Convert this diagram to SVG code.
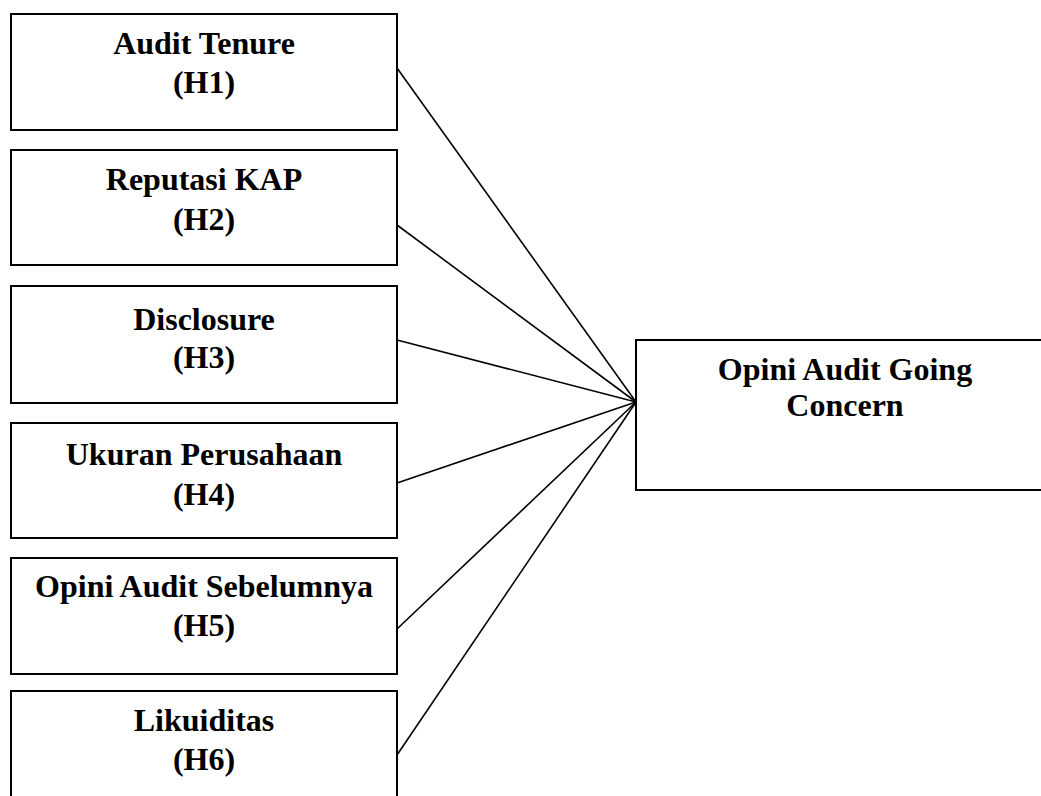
<svg xmlns="http://www.w3.org/2000/svg" width="1041" height="796" viewBox="0 0 1041 796">
<style>
.box{fill:#fff;stroke:#000;stroke-width:2}
.t{font-family:"Liberation Serif","Times New Roman",serif;font-weight:bold;font-size:32px;text-anchor:middle;fill:#000}
.c{stroke:#000;stroke-width:1.6;fill:none}
</style>
<rect width="1041" height="796" fill="#fff"/>
<g id="connectors">
<line class="c" x1="397" y1="68" x2="636" y2="402"/>
<line class="c" x1="397" y1="225" x2="636" y2="402"/>
<line class="c" x1="397" y1="340" x2="636" y2="402"/>
<line class="c" x1="397" y1="483" x2="636" y2="402"/>
<line class="c" x1="397" y1="629" x2="636" y2="402"/>
<line class="c" x1="397" y1="755" x2="636" y2="402"/>
</g>
<g id="n1"><rect class="box" x="11" y="14" width="386" height="116"/><text class="t" x="204" y="54">Audit Tenure</text><text class="t" x="204" y="93">(H1)</text></g>
<g id="n2"><rect class="box" x="11" y="150" width="386" height="115"/><text class="t" x="204" y="190">Reputasi KAP</text><text class="t" x="204" y="230">(H2)</text></g>
<g id="n3"><rect class="box" x="11" y="286" width="386" height="117"/><text class="t" x="204" y="330">Disclosure</text><text class="t" x="204" y="368">(H3)</text></g>
<g id="n4"><rect class="box" x="11" y="423" width="386" height="115"/><text class="t" x="204" y="465">Ukuran Perusahaan</text><text class="t" x="204" y="505">(H4)</text></g>
<g id="n5"><rect class="box" x="11" y="558" width="386" height="116"/><text class="t" x="204" y="597">Opini Audit Sebelumnya</text><text class="t" x="204" y="636">(H5)</text></g>
<g id="n6"><rect class="box" x="11" y="691" width="386" height="130"/><text class="t" x="204" y="731">Likuiditas</text><text class="t" x="204" y="770">(H6)</text></g>
<g id="target"><rect class="box" x="636" y="340" width="430" height="150"/><text class="t" x="845" y="380">Opini Audit Going</text><text class="t" x="845" y="416">Concern</text></g>
</svg>
